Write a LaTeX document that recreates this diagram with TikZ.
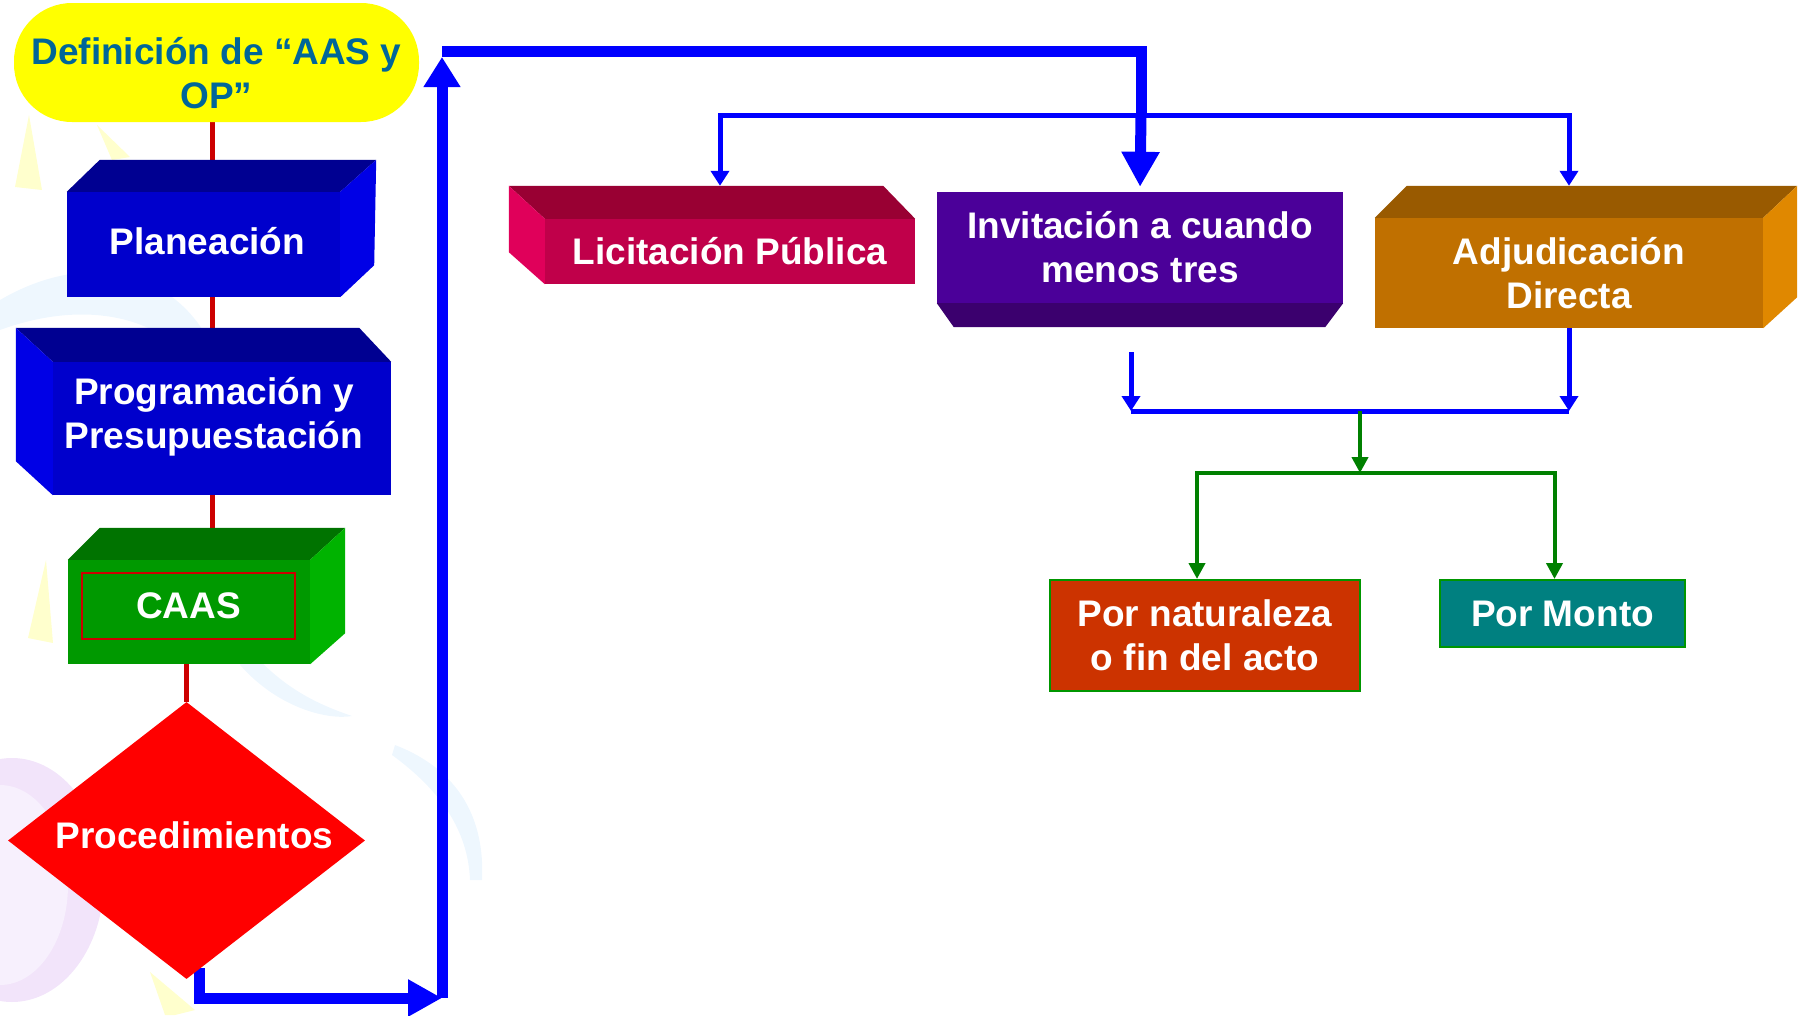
\documentclass[tikz,border=0pt]{standalone}
\usepackage{fontspec}
\setmainfont{Liberation Sans}
\usetikzlibrary{positioning,shapes.geometric,arrows.meta,backgrounds}

\definecolor{defyellow}{RGB}{255,255,0}
\definecolor{deftext}{RGB}{0,102,153}
\definecolor{planfront}{RGB}{0,0,204}
\definecolor{plantop}{RGB}{0,0,145}
\definecolor{planside}{RGB}{0,0,230}
\definecolor{caasfront}{RGB}{0,153,0}
\definecolor{caastop}{RGB}{0,115,0}
\definecolor{caasside}{RGB}{0,179,0}
\definecolor{frame}{RGB}{204,0,0}
\definecolor{procred}{RGB}{255,0,0}
\definecolor{lictop}{RGB}{153,0,51}
\definecolor{licfront}{RGB}{192,0,74}
\definecolor{licside}{RGB}{224,0,90}
\definecolor{invfront}{RGB}{75,0,153}
\definecolor{invbottom}{RGB}{59,0,110}
\definecolor{adjfront}{RGB}{192,112,0}
\definecolor{adjtop}{RGB}{153,90,0}
\definecolor{adjside}{RGB}{224,136,0}
\definecolor{natfill}{RGB}{204,51,0}
\definecolor{montofill}{RGB}{0,128,128}
\definecolor{edgegreen}{RGB}{0,150,0}
\definecolor{linkred}{RGB}{204,0,0}
\definecolor{flowblue}{RGB}{0,0,255}
\definecolor{flowgreen}{RGB}{0,128,0}
\definecolor{lavout}{RGB}{242,228,250}
\definecolor{lavin}{RGB}{247,240,253}
\definecolor{paleblue}{RGB}{238,247,254}
\definecolor{paleyellow}{RGB}{255,255,205}

\newcommand{\boxfont}{\fontsize{37}{44}\selectfont\bfseries}

\tikzset{face/.style={fill=#1, inner sep=0pt, align=center, text=white, font=\boxfont},
    flatbox/.style={fill=#1, draw=edgegreen, line width=2pt, inner sep=0pt, align=center, text=white, font=\boxfont},
    defbox/.style={fill=defyellow, rounded corners=58pt, minimum width=405pt, minimum height=119pt, inner sep=0pt, align=center, text=deftext, font=\boxfont},
    procshape/.style={diamond, fill=procred, aspect=1.29, minimum width=357pt, minimum height=277pt, inner sep=0pt, text=white, font=\boxfont},
    caasin/.style={draw=frame, line width=1.5pt, minimum width=213pt, minimum height=66pt, inner sep=0pt, text=white, font=\boxfont},
    redline/.style={draw=linkred, line width=5pt},
    bigline/.style={draw=flowblue, line width=11pt},
    bigarrow/.style={bigline, -{Triangle[length=35pt,width=36pt]}, shorten >=5pt},
    thinline/.style={draw=flowblue, line width=5pt},
    thinarrow/.style={thinline, -{Triangle[length=15pt,width=18pt]}},
    greenline/.style={draw=flowgreen, line width=4pt, -{Triangle[length=16pt,width=16pt]}}}

\begin{document}
\begin{tikzpicture}[x=1pt,y=-1pt]
    \useasboundingbox (0,0) rectangle (1806,1015);

    \node[defbox]                                                   (defn)    at (216.5,62.5)  {\rule{0pt}{48pt}Definición de “AAS y\\OP”};
    \node[face=planfront, minimum width=273pt, minimum height=105pt, text depth=7pt] (plan) at (203.5,244.5) {\hspace*{8pt}Planeación};
    \node[face=planfront, minimum width=338pt, minimum height=133pt] (prog)   at (222,428.5)   {Programación y\hspace*{16pt}\\Presupuestación\hspace*{16pt}\rule[-32pt]{0pt}{0pt}};
    \node[face=caasfront, minimum width=242pt, minimum height=104pt] (caas)   at (189,612)     {};
    \node[caasin]                                                   (caastxt) at (188.5,606)   {CAAS};
    \node[procshape, text depth=10pt]                               (proc)    at (186.5,840.5) {\hspace*{16pt}Procedimientos};
    \node[face=licfront, minimum width=370pt, minimum height=65pt]  (lic)     at (730,251.5)   {Licitación Pública};
    \node[face=invfront, minimum width=406pt, minimum height=111pt] (invit)   at (1140,247.5)  {Invitación a cuando\\menos tres};
    \node[face=adjfront, minimum width=388pt, minimum height=110pt] (adj)     at (1569,273)    {Adjudicación\\Directa};
    \node[flatbox=natfill, minimum width=310pt, minimum height=111pt]  (nat)   at (1205,635.5) {Por naturaleza\\o fin del acto};
    \node[flatbox=montofill, minimum width=245pt, minimum height=67pt] (monto) at (1562.5,613.5) {Por Monto};

    % box faces
    \fill[plantop]  (plan.north west) -- ++(33,-32) -- ([shift={(36,-32)}]plan.north east) -- (plan.north east) -- cycle;
    \fill[planside] (plan.north east) -- ++(36,-32) -- ([shift={(34,-32)}]plan.south east) -- (plan.south east) -- cycle;
    \fill[plantop]  (prog.north west) -- ++(-37,-34) -- ([shift={(-32,-34)}]prog.north east) -- (prog.north east) -- cycle;
    \fill[planside] (prog.north west) -- ++(-37,-34) -- ([shift={(-37,-34)}]prog.south west) -- (prog.south west) -- cycle;
    \fill[caastop]  (caas.north west) -- ++(32,-32) -- ([shift={(35,-32)}]caas.north east) -- (caas.north east) -- cycle;
    \fill[caasside] (caas.north east) -- ++(35,-32) -- ([shift={(35,-31)}]caas.south east) -- (caas.south east) -- cycle;
    \fill[lictop]   (lic.north west) -- ++(-36,-33) -- ([shift={(-32,-33)}]lic.north east) -- (lic.north east) -- cycle;
    \fill[licside]  (lic.north west) -- ++(-36,-33) -- ([shift={(-36,-32)}]lic.south west) -- (lic.south west) -- cycle;
    \fill[invbottom] (invit.south west) -- (invit.south east) -- ++(-18,24) -- ([shift={(17,24)}]invit.south west) -- cycle;
    \fill[adjtop]   (adj.north west) -- ++(32,-32) -- ([shift={(34,-32)}]adj.north east) -- (adj.north east) -- cycle;
    \fill[adjside]  (adj.north east) -- ++(34,-32) -- ([shift={(34,-31)}]adj.south east) -- (adj.south east) -- cycle;

    \coordinate (spine)   at (212,0);
    \coordinate (loopbot) at (442,998);
    \coordinate (looptop) at (442,51);
    \coordinate (branch)  at (1141,115);
    \coordinate (mergeL)  at (1131,411);
    \coordinate (merge)   at (1360,411);
    \coordinate (fork)    at (1360,473);

    \begin{scope}[on background layer]
        % faint backdrop
        \fill[lavout] (12,880) ellipse [x radius=92, y radius=122];
        \fill[lavin]  (0,885) ellipse [x radius=68, y radius=100];
        \fill[paleblue] (0,300) .. controls (120,230) and (230,300) .. (225,420) .. controls (200,330) and (110,290) .. (0,330) -- cycle;
        \fill[paleblue] (240,665) .. controls (280,710) and (330,720) .. (352,716) .. controls (320,705) and (285,690) .. (250,650) -- cycle;
        \fill[paleblue] (395,745) .. controls (460,770) and (485,820) .. (482,880) -- (470,880) .. controls (468,830) and (440,790) .. (392,755) -- cycle;
        \fill[paleyellow] (29,115) -- (15,187) -- (42,190) -- cycle;
        \fill[paleyellow] (97,125) -- (130,157) -- (112,160) -- cycle;
        \fill[paleyellow] (46,560) -- (28,638) -- (53,643) -- cycle;
        \fill[paleyellow] (150,972) -- (195,1010) -- (175,1015) -- (165,1015) -- cycle;

        \draw[redline] (spine |- defn.south) -- (spine |- plan.north);
        \draw[redline] (spine |- plan.south) -- (spine |- prog.north);
        \draw[redline] (spine |- prog.south) -- (spine |- caas.north);
        \draw[redline] (proc.north |- caas.south) -- (proc.north);

        \draw[bigline, -{Triangle[length=34pt,width=35pt]}] ([xshift=12.5pt,yshift=11pt]proc.south) |- (loopbot);
        \draw[bigline, -{Triangle[length=30pt,width=35pt]}, shorten >=6pt] (loopbot) -- (looptop);
        \draw[bigline]   (looptop) -| (branch);
        \draw[bigarrow]  (branch) -- (invit.north);
        \draw[thinarrow] (branch) -| ([xshift=-10pt,yshift=33pt]lic.north);
        \draw[thinarrow] (branch) -| ([yshift=32pt]adj.north);

        \draw[thinarrow] ([xshift=-9pt,yshift=-49pt]invit.south) -- (mergeL);
        \draw[thinarrow] (adj.south) -- (adj.south |- merge);
        \draw[thinline]  (mergeL) -- (adj.south |- merge);

        \draw[greenline] (merge) -- (fork);
        \draw[greenline] (fork) -| ([xshift=-8pt]nat.north);
        \draw[greenline] (fork) -| ([xshift=-8pt]monto.north);
    \end{scope}
\end{tikzpicture}
\end{document}
